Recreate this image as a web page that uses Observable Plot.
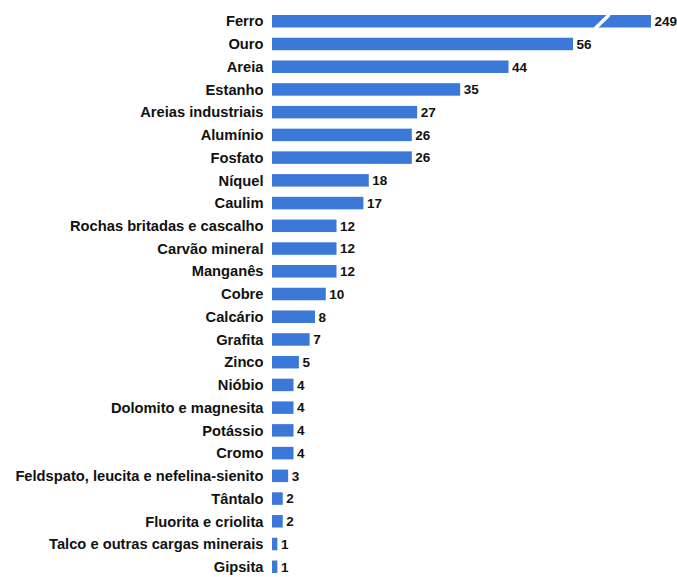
<!DOCTYPE html>
<html>
<head>
<meta charset="utf-8">
<script src="https://cdn.jsdelivr.net/npm/d3@7"></script>
<script src="https://cdn.jsdelivr.net/npm/@observablehq/plot@0.6"></script>
<style>
  html, body { margin: 0; padding: 0; background: #fff; }
</style>
</head>
<body>
<div id="chart"></div>
<script>
const names = [
  "Ferro", "Ouro", "Areia", "Estanho", "Areias industriais", "Alumínio", "Fosfato",
  "Níquel", "Caulim", "Rochas britadas e cascalho", "Carvão mineral", "Manganês",
  "Cobre", "Calcário", "Grafita", "Zinco", "Nióbio", "Dolomito e magnesita",
  "Potássio", "Cromo", "Feldspato, leucita e nefelina-sienito", "Tântalo",
  "Fluorita e criolita", "Talco e outras cargas minerais", "Gipsita"
];
const values = [249, 56, 44, 35, 27, 26, 26, 18, 17, 12, 12, 12, 10, 8, 7, 5, 4, 4, 4, 4, 3, 2, 2, 1, 1];
const brokenCategories = ["Ferro"];

const data = names.map((name, i) => ({name, value: values[i]}));

// axis break: values beyond breakAt are compressed
const breakAt = 61.3;
const compress = 0.049;
const maxValue = d3.max(values);
const broken = v => (v > breakAt ? breakAt + (v - breakAt) * compress : v);

const lineShape = {
  draw(context, l) {
    context.moveTo(0, 0);
    context.lineTo(0, -l);
  }
};

const chart = Plot.plot({
  width: 677,
  height: 577,
  marginLeft: 272,
  marginRight: 26,
  marginTop: 15,
  marginBottom: 4,
  style: {fontFamily: "'Liberation Sans', Arial, sans-serif", fontWeight: "bold", color: "#111", background: "#fff"},
  x: {transform: broken, domain: [0, broken(maxValue)], axis: null},
  y: {domain: names, paddingInner: 0.45, paddingOuter: 0, round: false, label: null},
  marks: [
    Plot.barX(data, {x: "value", y: "name", fill: "#3c78d8"}),
    Plot.vector(brokenCategories.map(name => ({name})), {
      x: breakAt, y: "name", length: 18, rotate: 46, anchor: "middle",
      stroke: "white", strokeWidth: 3.5, shape: lineShape
    }),
    Plot.text(data, {
      x: "value", y: "name", text: d => String(d.value), dx: 3,
      textAnchor: "start", fontSize: 13.5, fontWeight: "bold", fill: "#111"
    }),
    Plot.axisY({tickSize: 0, tickPadding: 9, fontSize: 14.7, fontWeight: "bold", label: null})
  ]
});
document.getElementById("chart").appendChild(chart);
</script>
</body>
</html>
